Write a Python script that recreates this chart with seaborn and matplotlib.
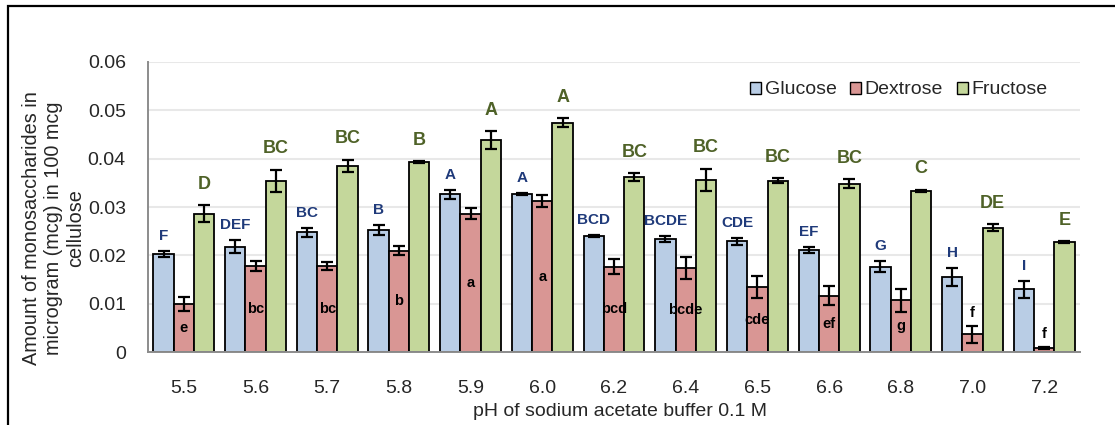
import numpy as np
import pandas as pd
import seaborn as sns
import matplotlib
matplotlib.use("Agg")
import matplotlib.pyplot as plt
from matplotlib.patches import Patch, Rectangle
from matplotlib.ticker import FixedLocator, FuncFormatter

# pH of the sodium acetate buffer (categories on the x axis)
ph_levels = ["5.5", "5.6", "5.7", "5.8", "5.9", "6.0", "6.2",
             "6.4", "6.5", "6.6", "6.8", "7.0", "7.2"]
sugars = ["Glucose", "Dextrose", "Fructose"]

# Mean amount (mcg per 100 mcg cellulose) and standard error
glucose = [0.0203, 0.0218, 0.0248, 0.0253, 0.0326, 0.0327, 0.0241,
           0.0234, 0.0229, 0.0211, 0.0177, 0.0155, 0.0130]
glucose_err = [0.0006, 0.0014, 0.0009, 0.0010, 0.0009, 0.0002, 0.0002,
               0.0007, 0.0007, 0.0007, 0.0012, 0.0019, 0.0017]
dextrose = [0.0100, 0.0178, 0.0178, 0.0210, 0.0286, 0.0312, 0.0177,
            0.0174, 0.0135, 0.0117, 0.0107, 0.0037, 0.0008]
dextrose_err = [0.0015, 0.0011, 0.0008, 0.0010, 0.0011, 0.0013, 0.0016,
                0.0022, 0.0022, 0.0019, 0.0023, 0.0017, 0.0002]
fructose = [0.0286, 0.0354, 0.0385, 0.0392, 0.0438, 0.0474, 0.0362,
            0.0356, 0.0354, 0.0348, 0.0334, 0.0257, 0.0228]
fructose_err = [0.0018, 0.0023, 0.0013, 0.0002, 0.0019, 0.0009, 0.0008,
                0.0023, 0.0005, 0.0009, 0.0002, 0.0007, 0.0002]

# Significance groups from the multiple-comparison test
glucose_groups = ["F", "DEF", "BC", "B", "A", "A", "BCD",
                  "BCDE", "CDE", "EF", "G", "H", "I"]
dextrose_groups = ["e", "bc", "bc", "b", "a", "a", "bcd",
                   "bcde", "cde", "ef", "g", "f", "f"]
fructose_groups = ["D", "BC", "BC", "B", "A", "A", "BC",
                   "BC", "BC", "BC", "C", "DE", "E"]

y_ticks = [0.0, 0.01, 0.02, 0.03, 0.04, 0.05, 0.06]

df = pd.DataFrame({
    "pH": ph_levels * 3,
    "Sugar": np.repeat(sugars, len(ph_levels)),
    "Amount": glucose + dextrose + fructose,
    "Err": glucose_err + dextrose_err + fructose_err,
    "Group": glucose_groups + dextrose_groups + fructose_groups,
})

fill = {"Glucose": "#B9CDE5", "Dextrose": "#D99694", "Fructose": "#C4D79B"}
label_style = {
    "Glucose": dict(color="#1F3A7A", fontsize=11),
    "Dextrose": dict(color="black", fontsize=10.5),
    "Fructose": dict(color="#4F6228", fontsize=13),
}
axis_grey = "#8C8C8C"

sns.set_style("white")
plt.rcParams["font.family"] = ["Liberation Sans", "DejaVu Sans"]

fig = plt.figure(figsize=(11.15, 4.25), dpi=100)
ax = fig.add_axes([148 / 1115, 1 - 352.3 / 425, (1080 - 148) / 1115, (352.3 - 61.7) / 425])

sns.barplot(data=df, x="pH", y="Amount", hue="Sugar", order=ph_levels,
            hue_order=sugars, palette=fill, saturation=1, width=0.85, gap=0,
            errorbar=None, edgecolor="black", linewidth=1.3,
            legend=False, ax=ax, zorder=2)

# Error bars and group letters, placed on the bars seaborn drew
for sugar, container in zip(sugars, ax.containers):
    sub = df[df["Sugar"] == sugar].set_index("pH").loc[ph_levels]
    xs = np.array([b.get_x() + b.get_width() / 2 for b in container])
    hs = np.array([b.get_height() for b in container])
    errs = sub["Err"].to_numpy()
    ax.errorbar(xs, hs, yerr=errs, fmt="none", ecolor="black",
                elinewidth=1.6, capsize=4.5, capthick=1.6, zorder=3)
    for x, h, e, g in zip(xs, hs, errs, sub["Group"]):
        if sugar == "Glucose":
            y = h + e + 0.0031
        elif sugar == "Fructose":
            y = h + e + 0.0043
        else:
            y = h / 2 if h > 0.006 else h + e + 0.0027
        ax.text(x, y, g, ha="center", va="center", fontweight="bold",
                zorder=4, **label_style[sugar])

ax.set_ylim(0, 0.06)
ax.set_xlim(-0.5, len(ph_levels) - 0.5)
ax.yaxis.set_major_locator(FixedLocator(y_ticks))
ax.yaxis.set_major_formatter(FuncFormatter(lambda v, p: f"{v:g}"))
ax.yaxis.grid(True, color="#E8E8E8", linewidth=1.5, zorder=0)
ax.set_axisbelow(True)

for side in ("top", "right"):
    ax.spines[side].set_visible(False)
for side in ("left", "bottom"):
    ax.spines[side].set_color(axis_grey)
    ax.spines[side].set_linewidth(1.4)

ax.tick_params(axis="y", which="major", direction="out", length=4,
               width=1.2, color=axis_grey, labelsize=14, pad=12)
ax.tick_params(axis="x", which="major", length=0, labelsize=14, pad=20)
ax.xaxis.set_minor_locator(FixedLocator(np.arange(-0.5, len(ph_levels), 1.0)))
ax.tick_params(axis="x", which="minor", direction="out", length=4,
               width=1.2, color=axis_grey)
ax.set_xlabel("")
ax.set_ylabel("")

fig.text(619.7 / 1115, 1 - 416 / 425, "pH of sodium acetate buffer 0.1 M",
         ha="center", va="baseline", fontsize=14)
fig.text(53.5 / 1115, 1 - 228 / 425,
         "Amount of monosaccharides in\nmicrogram (mcg) in 100 mcg\ncellulose",
         rotation=90, ha="center", va="center", multialignment="center",
         fontsize=14.3)

handles = [Patch(facecolor=fill[s], edgecolor="black", linewidth=1.0, label=s)
           for s in sugars]
fig.legend(handles=handles, loc="center left", ncol=3, frameon=False,
           bbox_to_anchor=(750 / 1115, 1 - 90 / 425), fontsize=14,
           handlelength=0.57, handleheight=0.57, handletextpad=0.18,
           columnspacing=0.7, borderpad=0, borderaxespad=0)

# Outer chart-area frame
fig.add_artist(Rectangle((7.5 / 1115, -1), 2, 1 + (1 - 6.5 / 425),
                         transform=fig.transFigure, fill=False,
                         edgecolor="black", linewidth=1.6, clip_on=False))

fig.savefig("out.png", dpi=100)
